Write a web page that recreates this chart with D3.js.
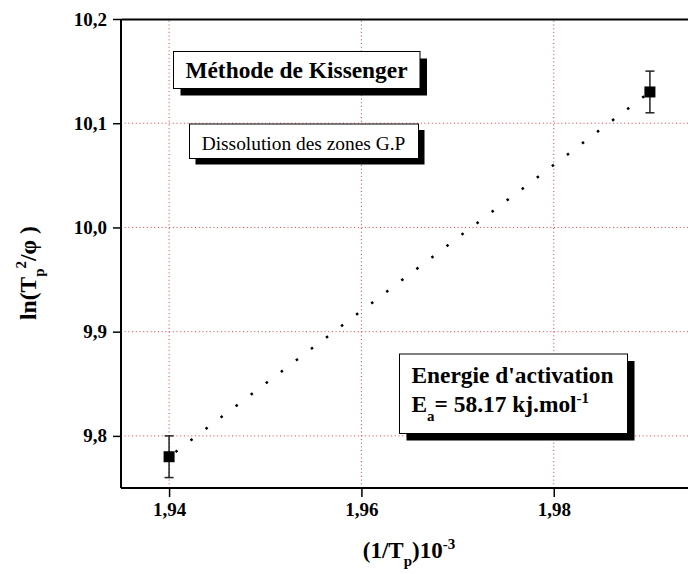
<!DOCTYPE html>
<html><head><meta charset="utf-8">
<script src="https://cdn.jsdelivr.net/npm/d3@7"></script>
<style>body{margin:0;background:#fff}svg{display:block}text{font-family:"Liberation Serif","Times New Roman",serif}</style>
</head><body><svg id="c" width="688" height="574"></svg>
<script>
const xValues = [1.94, 1.99];
const yValues = [9.78, 10.13];
const yErrors = [0.02, 0.02];
const fitX = [1.94, 1.99];
const fitY = [9.78, 10.13];
const xTicks = [1.94, 1.96, 1.98];
const yTicks = [9.8, 9.9, 10.0, 10.1, 10.2];

const svg = d3.select('#c');
const x = d3.scaleLinear().domain([1.935, 1.995]).range([121, 698]);
const y = d3.scaleLinear().domain([9.75, 10.2]).range([488, 19]);

// grid
const grid = svg.append('g').attr('stroke', '#e8383d').attr('stroke-width', 1).attr('stroke-dasharray', '1,2.7');
grid.selectAll('.gx').data(xTicks).join('line')
  .attr('x1', d => x(d)).attr('x2', d => x(d)).attr('y1', y(9.75)).attr('y2', y(10.2));
grid.selectAll('.gy').data(yTicks.filter(d => d < 10.2)).join('line')
  .attr('y1', d => y(d)).attr('y2', d => y(d)).attr('x1', x(1.935)).attr('x2', x(1.995));

// fit line (dotted)
svg.append('line')
  .attr('x1', x(fitX[0])).attr('y1', y(fitY[0])).attr('x2', x(fitX[1])).attr('y2', y(fitY[1]))
  .attr('stroke', '#000').attr('stroke-width', 2.5).attr('stroke-dasharray', '2.5,16.4').attr('stroke-dashoffset', -8);

// boxes
function box(x0, y0, w, h, off) {
  svg.append('rect').attr('x', x0 + off).attr('y', y0 + off).attr('width', w).attr('height', h).attr('fill', '#000');
  svg.append('rect').attr('x', x0).attr('y', y0).attr('width', w).attr('height', h).attr('fill', '#fff').attr('stroke', '#000').attr('stroke-width', 1);
}
box(173.5, 51.5, 246.5, 37, 7);
svg.append('text').attr('x', 296.5).attr('y', 78).attr('text-anchor', 'middle').attr('font-weight', 'bold').attr('font-size', 23.4).text('Méthode de Kissenger');
box(189.5, 124, 229, 34.5, 6);
svg.append('text').attr('x', 303.5).attr('y', 150).attr('text-anchor', 'middle').attr('font-size', 19.4).text('Dissolution des zones G.P');
box(399.5, 354, 228, 79.5, 7);
svg.append('text').attr('x', 411.5).attr('y', 383).attr('font-weight', 'bold').attr('font-size', 23.4).text("Energie d'activation");
const t3 = svg.append('text').attr('x', 411.5).attr('y', 412).attr('font-weight', 'bold').attr('font-size', 23.4);
t3.append('tspan').text('E');
t3.append('tspan').attr('font-size', 15).attr('dy', 9).text('a');
t3.append('tspan').attr('dy', -9).text('= 58.17 kj.mol');
t3.append('tspan').attr('font-size', 15).attr('dy', -9).text('-1');

// error bars and markers
const pts = xValues.map((v, i) => ({x: v, y: yValues[i], e: yErrors[i]}));
const eb = svg.append('g').attr('stroke', '#222').attr('stroke-width', 1.5);
pts.forEach(p => {
  eb.append('line').attr('x1', x(p.x)).attr('x2', x(p.x)).attr('y1', y(p.y - p.e)).attr('y2', y(p.y + p.e));
  eb.append('line').attr('x1', x(p.x) - 4.5).attr('x2', x(p.x) + 4.5).attr('y1', y(p.y - p.e)).attr('y2', y(p.y - p.e));
  eb.append('line').attr('x1', x(p.x) - 4.5).attr('x2', x(p.x) + 4.5).attr('y1', y(p.y + p.e)).attr('y2', y(p.y + p.e));
});
svg.selectAll('.pt').data(pts).join('rect')
  .attr('x', d => x(d.x) - 5.5).attr('y', d => y(d.y) - 5.5).attr('width', 11).attr('height', 11).attr('fill', '#000');

// axes
const xAxis = svg.append('g').attr('transform', `translate(0,${y(9.75)})`)
  .call(d3.axisBottom(x).tickValues(xTicks).tickSize(9).tickPadding(6).tickFormat(d => d.toFixed(2).replace('.', ',')));
const yAxis = svg.append('g').attr('transform', `translate(${x(1.935)},0)`)
  .call(d3.axisLeft(y).tickValues(yTicks).tickSize(8).tickPadding(6).tickFormat(d => d.toFixed(1).replace('.', ',')));
const topAxis = svg.append('g').attr('transform', `translate(0,${y(10.2)})`)
  .call(d3.axisTop(x).tickValues([]).tickSizeOuter(0));
[xAxis, yAxis, topAxis].forEach(a => {
  a.select('.domain').attr('stroke', '#000').attr('stroke-width', 2);
  a.selectAll('.tick line').attr('stroke', '#000').attr('stroke-width', 1.5);
  a.selectAll('.tick text').attr('font-family', '"Liberation Serif","Times New Roman",serif')
    .attr('font-weight', 'bold').attr('font-size', 19).attr('fill', '#000');
});
xAxis.select('.domain').attr('d', `M${x(1.935)},0H${x(1.995)}`);
yAxis.select('.domain').attr('d', `M0,${y(9.75)}V${y(10.2)}`);

// axis titles
const xt = svg.append('text').attr('x', 409).attr('y', 558).attr('text-anchor', 'middle').attr('font-weight', 'bold').attr('font-size', 23);
xt.append('tspan').text('(1/T');
xt.append('tspan').attr('font-size', 15).attr('dy', 8).text('p');
xt.append('tspan').attr('dy', -8).text(')10');
xt.append('tspan').attr('font-size', 15).attr('dy', -9).text('-3');

const yt = svg.append('text').attr('transform', 'translate(36,273) rotate(-90)').attr('text-anchor', 'middle').attr('font-weight', 'bold').attr('font-size', 23.5);
yt.append('tspan').text('ln(T');
yt.append('tspan').attr('font-size', 15).attr('dy', 8).text('p');
yt.append('tspan').attr('font-size', 15).attr('dy', -18).text('2');
yt.append('tspan').attr('dy', 10).text('/φ )');
</script></body></html>
